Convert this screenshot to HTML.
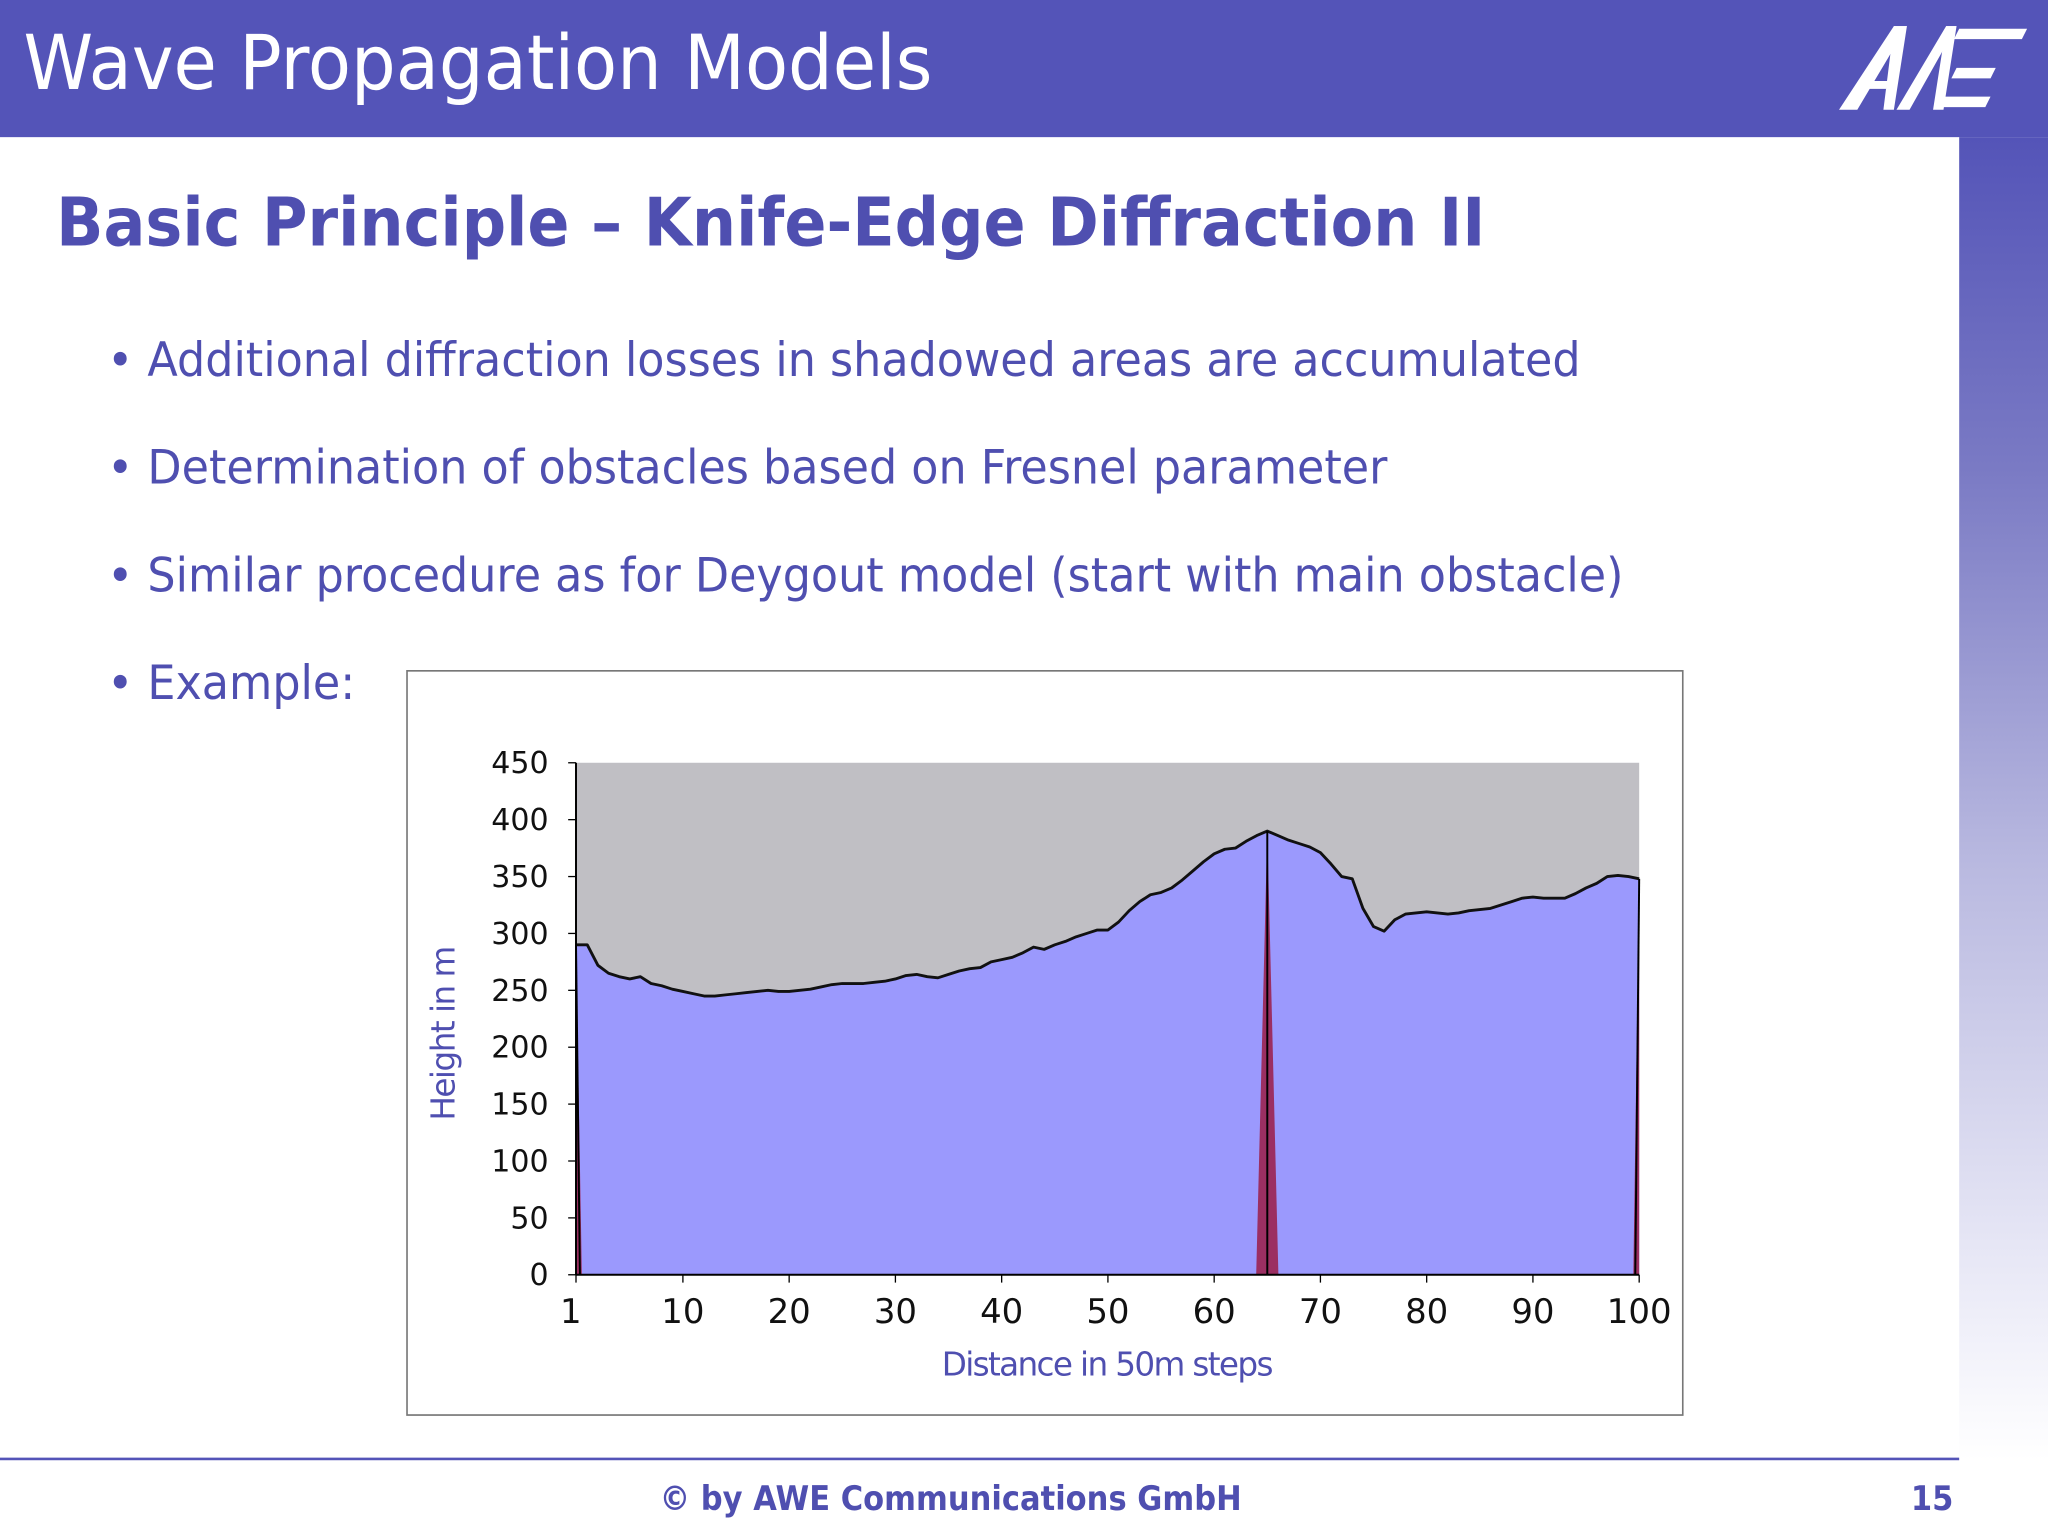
<!DOCTYPE html>
<html><head><meta charset="utf-8">
<style>
html,body{margin:0;padding:0;background:#fff;overflow:hidden;}
#page{position:absolute;left:0;top:0;width:1568px;height:1178px;transform:scale(1.30612);transform-origin:0 0;font-family:"DejaVu Sans","Liberation Sans",sans-serif;color:#4f4fb0;}
.hdr{position:absolute;left:0;top:0;width:1568px;height:105px;background:#5454b8;}
.side{position:absolute;left:1500px;top:105px;width:68px;height:1013px;background:linear-gradient(#5454b8,#7a7ac4 25%,#b9b9e0 55%,#e8e8f6 85%,#fff);}
.title{position:absolute;left:18px;top:14px;font-size:58px;color:#fff;transform:scaleX(0.93);transform-origin:0 0;white-space:nowrap;}
h2{position:absolute;left:43px;top:142px;margin:0;font-size:51px;font-weight:bold;color:#4f4fb0;transform:scaleX(0.932);transform-origin:0 0;white-space:nowrap;}
.b{position:absolute;left:82px;font-size:36px;color:#4f4fb0;transform:scaleX(0.945);transform-origin:0 0;white-space:nowrap;}
.foot{position:absolute;left:0;top:1116px;width:1500px;height:2px;background:#5454b8;}
.fl{position:absolute;top:1133px;font-size:26px;font-weight:bold;color:#4f4fb0;transform:scaleX(0.9);transform-origin:0 0;white-space:nowrap;}
</style></head><body>
<div id="page">
<div class="hdr"></div>
<div class="side"></div>
<div class="title">Wave Propagation Models</div>
<svg style="position:absolute;left:1400px;top:12px" width="160" height="80">
<g fill="#fff"><polygon points="8,72 50,8 60,8 22,72"/><polygon points="50,8 60,8 50,72 42,72"/><polygon points="26,50 46,50 44,56 24,56"/><polygon points="52,72 90,8 98,8 62,72"/><polygon points="90,8 98,8 88,72 80,72"/><polygon points="100,10 152,10 148,18 96,18"/><polygon points="98,40 128,40 124,48 94,48"/><polygon points="86,62 124,62 120,70 82,70"/></g></svg>
<h2>Basic Principle – Knife-Edge Diffraction II</h2>
<div class="b" style="top:256px">• Additional diffraction losses in shadowed areas are accumulated</div>
<div class="b" style="top:338px">• Determination of obstacles based on Fresnel parameter</div>
<div class="b" style="top:421px">• Similar procedure as for Deygout model (start with main obstacle)</div>
<div class="b" style="top:503px">• Example:</div>
<svg id="chart" style="position:absolute;left:311px;top:513px" width="978" height="571"></svg>
<div class="foot"></div>
<div class="fl" style="left:505px">© by AWE Communications GmbH</div>
<div class="fl" style="left:1463px">15</div>
</div>
<script>
const heights=[290,272,265,262,260,262,256,254,251,249,247,245,245,246,247,248,249,250,249,249,250,251,253,255,256,256,256,257,258,260,263,264,262,261,264,267,269,270,275,277,279,283,288,286,290,293,297,300,303,303,310,320,328,334,336,340,347,355,363,370,374,375,381,386,390,386,382,379,376,371,361,350,348,322,306,302,312,317,318,319,318,317,318,320,321,322,325,328,331,332,331,331,331,335,340,344,350,351,350,348];
const obstacles=[1,65,100];
const yTicks=[0,50,100,150,200,250,300,350,400,450];
const xTicks=[1,10,20,30,40,50,60,70,80,90,100];
const svg=document.getElementById('chart');const NS='http://www.w3.org/2000/svg';
const ox=311,oy=513;
const L=441-ox,R=1255-ox;
const X=d=>Math.max(L,R-(100-d)*8.135);
const Y=v=>976-oy-v*(976-584)/450;
function mk(t,a,p){const e=document.createElementNS(NS,t);for(const k in a)e.setAttribute(k,a[k]);(p||svg).appendChild(e);return e;}
const fr=mk('rect',{x:0.5,y:0.5,width:977,height:570,fill:'#fff',stroke:'#777','stroke-width':1.5});


const bg=mk('rect',{x:L,y:Y(450),width:R-L,height:Y(0)-Y(450),fill:'#c0bfc4'});


let pts=L+','+Y(heights[0])+' '+heights.map((h,i)=>X(i+1)+','+Y(h)).join(' ');
const ar=mk('polygon',{points:L+','+Y(0)+' '+pts+' '+R+','+Y(0),fill:'#9b99fd'});


const ln=mk('polyline',{points:pts,fill:'none',stroke:'#111','stroke-width':2.2,'stroke-linejoin':'round'});


obstacles.forEach(d=>{let cx=X(d);if(d===1)cx=L;const h=heights[d-1];const hw=d===65?8.5:4.5;
const l=Math.max(L,cx-hw),r=Math.min(R,cx+hw);
const p=mk('polygon',{points:l+','+Y(0)+' '+cx+','+Y(h)+' '+r+','+Y(0),fill:'#9b2f62'});


const k=mk('line',{x1:cx,y1:Y(h),x2:cx+(d===1?3:d===100?-3:0),y2:Y(0),stroke:'#000','stroke-width':1.5});

});
const ya=mk('line',{x1:L,y1:Y(0),x2:L,y2:Y(450),stroke:'#000','stroke-width':1.5});


const xa=mk('line',{x1:L,y1:Y(0),x2:R,y2:Y(0),stroke:'#000','stroke-width':1.5});


yTicks.forEach(v=>{mk('line',{x1:L-6,y1:Y(v),x2:L,y2:Y(v),stroke:'#000'});
const t=mk('text',{x:L-21,y:Y(v)+8,'text-anchor':'end','font-size':23,fill:'#111','font-family':'DejaVu Sans,sans-serif'});t.textContent=v;

});
xTicks.forEach(v=>{const xx=v===1?L:X(v);mk('line',{x1:xx,y1:Y(0),x2:xx,y2:Y(0)+6,stroke:'#000'});
const t=mk('text',{x:xx-(v===1?4:0),y:Y(0)+37,'text-anchor':'middle','font-size':26,fill:'#111','font-family':'DejaVu Sans,sans-serif'});t.textContent=v;

});
const xt=mk('text',{x:537,y:540,'text-anchor':'middle','font-size':25,fill:'#4f4fb0','font-family':'DejaVu Sans,sans-serif',textLength:254});xt.textContent='Distance in 50m steps';


const yt=mk('text',{x:0,y:0,transform:'translate(37,278) rotate(-90)','text-anchor':'middle','font-size':25,fill:'#4f4fb0','font-family':'DejaVu Sans,sans-serif',textLength:134});yt.textContent='Height in m';


</script>
</body></html>
